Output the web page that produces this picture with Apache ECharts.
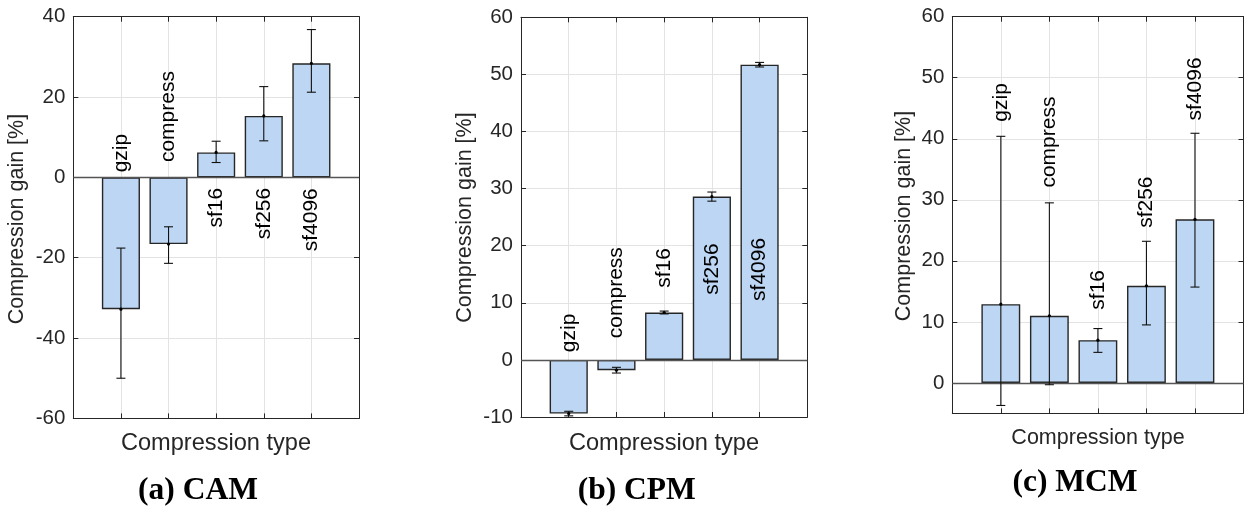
<!DOCTYPE html>
<html>
<head>
<meta charset="utf-8">
<script src="https://cdn.jsdelivr.net/npm/echarts@6/dist/echarts.min.js"></script>
<style>
  html, body { margin: 0; padding: 0; background: #fff; }
  #chart { width: 1245px; height: 509px; }
</style>
</head>
<body>
<div id="chart"></div>
<script>
// ---------------- DATA ----------------
const categories = ['gzip', 'compress', 'sf16', 'sf256', 'sf4096'];

const camMean = [-32.8, -16.6, 6.2, 15.3, 28.4];
const camLow  = [-50.0, -21.4, 3.7, 9.1, 21.2];
const camHigh = [-17.6, -12.3, 9.0, 22.6, 36.8];

const cpmMean = [-9.4, -1.8, 8.3, 28.6, 51.7];
const cpmLow  = [-9.8, -2.3, 8.05, 27.8, 51.3];
const cpmHigh = [-9.0, -1.3, 8.55, 29.4, 52.1];

const mcmMean = [12.9, 11.0, 7.0, 15.9, 26.8];
const mcmLow  = [-3.7, -0.3, 5.0, 9.5, 15.7];
const mcmHigh = [40.4, 29.5, 8.9, 23.2, 40.9];

const camTicks = [-60, -40, -20, 0, 20, 40];
const cpmTicks = [-10, 0, 10, 20, 30, 40, 50, 60];
const mcmTicks = [0, 10, 20, 30, 40, 50, 60];
const mcmRange = [-5, 60];

const yTitle = 'Compression gain [%]';
const xTitle = 'Compression type';
const captions = ['(a) CAM', '(b) CPM', '(c) MCM'];

// ---------------- LAYOUT ----------------
const FONT = '"Liberation Sans", Arial, Helvetica, sans-serif';
const TXT = '#262626';
const panels = [
  { grid: { left: 73.3, top: 16.7, width: 285.7, height: 401.7 },
    mean: camMean, low: camLow, high: camHigh,
    min: camTicks[0], max: camTicks[camTicks.length - 1], ticks: camTicks,
    // label anchors in data units (layout only)
    lab: [{ y: 1.25, a: 'left' }, { y: 3.8, a: 'left' }, { y: -2.6, a: 'right' }, { y: -2.6, a: 'right' }, { y: -2.7, a: 'right' }],
    xt: [216, 443, 23.6], yt: [17, 219], cap: [198, 491] },
  { grid: { left: 521, top: 17.3, width: 286.3, height: 399.7 },
    mean: cpmMean, low: cpmLow, high: cpmHigh,
    min: cpmTicks[0], max: cpmTicks[cpmTicks.length - 1], ticks: cpmTicks,
    lab: [{ y: 1.35, a: 'left' }, { y: 3.8, a: 'left' }, { y: 16.1, a: 'center' }, { y: 15.9, a: 'center' }, { y: 15.85, a: 'center' }],
    xt: [664, 443, 23.6], yt: [464.7, 217.5], cap: [636.7, 491] },
  { grid: { left: 952.3, top: 16.7, width: 291.2, height: 396.7 },
    mean: mcmMean, low: mcmLow, high: mcmHigh,
    min: mcmRange[0], max: mcmRange[1], ticks: mcmTicks,
    lab: [{ y: 42.8, a: 'left' }, { y: 32.0, a: 'left' }, { y: 12.0, a: 'left' }, { y: 25.4, a: 'left' }, { y: 43.0, a: 'left' }],
    xt: [1098, 438, 21.5], yt: [904, 216], cap: [1075, 483] }
];

const grids = [], xAxes = [], yAxes = [], series = [], graphics = [];

panels.forEach((p, i) => {
  grids.push(Object.assign({ containLabel: false }, p.grid));
  const frame = { show: true, onZero: false, lineStyle: { color: TXT, width: 1 } };
  const tick = { show: true, inside: true, length: 5, lineStyle: { color: TXT, width: 1 } };
  xAxes.push({ type: 'value', gridIndex: i, min: 0, max: 6, interval: 1, position: 'bottom',
    axisLine: frame, axisTick: tick, axisLabel: { show: false },
    splitLine: { show: true, lineStyle: { color: '#e3e3e3', width: 1 } } });
  xAxes.push({ type: 'value', gridIndex: i, min: 0, max: 6, interval: 1, position: 'top',
    axisLine: frame, axisTick: tick, axisLabel: { show: false }, splitLine: { show: false } });
  const isCustom = (p.min % (p.ticks[1] - p.ticks[0])) !== 0;
  const interval = p.ticks[1] - p.ticks[0];
  const leftY = { type: 'value', gridIndex: i, min: p.min, max: p.max, position: 'left',
    axisLine: frame,
    axisTick: Object.assign({}, tick),
    axisLabel: { show: true, fontSize: 20.5, color: TXT, fontFamily: FONT, margin: 8 },
    splitLine: { show: true, lineStyle: { color: '#e3e3e3', width: 1 } } };
  const rightY = { type: 'value', gridIndex: i, min: p.min, max: p.max, position: 'right',
    axisLine: frame, axisTick: Object.assign({}, tick), axisLabel: { show: false }, splitLine: { show: false } };
  if (isCustom) {
    leftY.axisTick.customValues = p.ticks;
    leftY.axisLabel.customValues = p.ticks;
    rightY.axisTick.customValues = p.ticks;
    rightY.axisLabel.customValues = p.ticks;
    leftY.interval = 5;
    rightY.interval = 5;
  } else {
    leftY.interval = interval;
    rightY.interval = interval;
  }
  yAxes.push(leftY, rightY);

  const xi = 2 * i, yi = 2 * i;
  const barW = p.grid.width / 6 * 0.8;
  series.push({
    type: 'bar', xAxisIndex: xi, yAxisIndex: yi, barWidth: barW,
    data: p.mean.map((v, k) => [k + 1, v]),
    itemStyle: { color: '#BCD6F3', borderColor: '#262626', borderWidth: 1.4 },
    silent: true, z: 2,
    markLine: { silent: true, symbol: ['none', 'none'], label: { show: false },
      lineStyle: { color: '#555', width: 1.3, type: 'solid' }, data: [{ yAxis: 0 }] }
  });
  series.push({
    type: 'custom', xAxisIndex: xi, yAxisIndex: yi, z: 5, silent: true,
    data: p.mean.map((v, k) => [k + 1, p.low[k], p.high[k], v]),
    encode: { x: 0, y: [1, 2] },
    renderItem: (params, api) => {
      const x = api.value(0);
      const lo = api.coord([x, api.value(1)]);
      const hi = api.coord([x, api.value(2)]);
      const md = api.coord([x, api.value(3)]);
      const cw = 4.5;
      const st = { stroke: '#111', lineWidth: 1.1 };
      return { type: 'group', children: [
        { type: 'line', shape: { x1: lo[0], y1: lo[1], x2: hi[0], y2: hi[1] }, style: st },
        { type: 'line', shape: { x1: lo[0] - cw, y1: lo[1], x2: lo[0] + cw, y2: lo[1] }, style: st },
        { type: 'line', shape: { x1: hi[0] - cw, y1: hi[1], x2: hi[0] + cw, y2: hi[1] }, style: st },
        { type: 'circle', shape: { cx: md[0], cy: md[1], r: 1.6 }, style: { fill: '#000' } }
      ] };
    }
  });
  series.push({
    type: 'custom', xAxisIndex: xi, yAxisIndex: yi, z: 6, silent: true,
    data: categories.map((c, k) => [k + 1, p.lab[k].y]),
    encode: { x: 0, y: 1 },
    renderItem: (params, api) => {
      const k = params.dataIndex;
      const pt = api.coord([api.value(0), api.value(1)]);
      return { type: 'text', x: pt[0], y: pt[1], rotation: Math.PI / 2,
        style: { text: categories[k], fontSize: 21, fontFamily: FONT, fill: '#000',
          align: p.lab[k].a, verticalAlign: 'middle' } };
    }
  });

  graphics.push({ type: 'text', x: p.xt[0], y: p.xt[1],
    style: { text: xTitle, fontSize: p.xt[2], fontFamily: FONT, fill: TXT, align: 'center', verticalAlign: 'middle' } });
  graphics.push({ type: 'text', x: p.yt[0], y: p.yt[1], rotation: Math.PI / 2,
    style: { text: yTitle, fontSize: 21.5, fontFamily: FONT, fill: TXT, align: 'center', verticalAlign: 'middle' } });
  graphics.push({ type: 'text', x: p.cap[0], y: p.cap[1],
    style: { text: captions[i], fontSize: 31.5, fontWeight: 'bold', fontFamily: '"Liberation Serif", "Times New Roman", serif',
      fill: '#000', align: 'center', verticalAlign: 'middle' } });
});

const chart = echarts.init(document.getElementById('chart'), null, { renderer: 'canvas' });
chart.setOption({
  animation: false,
  backgroundColor: '#fff',
  grid: grids, xAxis: xAxes, yAxis: yAxes, series: series, graphic: graphics
});
</script>
</body>
</html>
